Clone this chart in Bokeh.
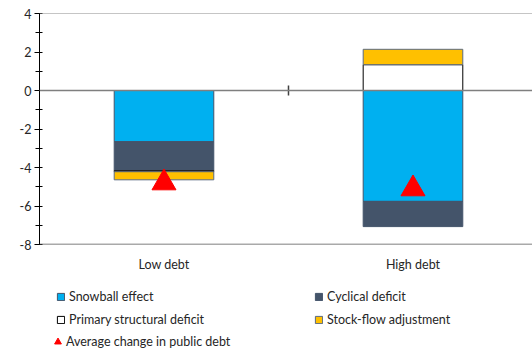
import numpy as np
from bokeh.plotting import figure
from bokeh.layouts import column
from bokeh.models import (Range1d, FixedTicker, Span, Legend, LegendItem,
                          ColumnDataSource)
from bokeh.transform import dodge
from bokeh.embed import file_html
from bokeh.resources import INLINE

# ---- data ----
categories = ["Low debt", "High debt"]
snowball = [-2.66, -5.76]
cyclical = [-1.51, -1.31]
primary_structural = [-0.05, 1.34]
stock_flow = [-0.42, 0.80]
avg_change = [-4.62, -4.93]

series_names = ["Snowball effect", "Cyclical deficit", "Primary structural deficit", "Stock-flow adjustment"]
series_vals = [snowball, cyclical, primary_structural, stock_flow]
fill_colors = ["#00B0F0", "#44546A", "#FFFFFF", "#FFC000"]
line_colors = ["#44546A", "#44546A", "#000000", "#5A6A82"]
avg_name = "Average change in public debt"

y_ticks = [-8, -6, -4, -2, 0, 2, 4]
y_minor = [-7, -5, -3, -1, 1, 3]

FONT = "Lato"
FSIZE = "12.5px"
TXT = "#262626"

xpos = np.arange(len(categories)) + 0.5

p = figure(width=532, height=278, output_backend="svg", toolbar_location=None,
           x_range=Range1d(0, 1.98), y_range=Range1d(-8, 4),
           min_border_left=39, min_border_right=0, min_border_top=13,
           min_border_bottom=34)
p.outline_line_color = None
p.xgrid.visible = False
p.ygrid.visible = False

# stacked bars
pos_base = np.zeros(len(categories))
neg_base = np.zeros(len(categories))
for name, vals, fc, lc in zip(series_names, series_vals, fill_colors, line_colors):
    v = np.array(vals, dtype=float)
    bottom = np.where(v >= 0, pos_base, neg_base)
    top = bottom + v
    pos_base = np.where(v >= 0, top, pos_base)
    neg_base = np.where(v < 0, top, neg_base)
    src = ColumnDataSource(dict(x=xpos, top=top, bottom=bottom))
    p.vbar(x="x", top="top", bottom="bottom", width=0.4, source=src,
           fill_color=fc, line_color=lc, line_width=1)

# lines: top border, zero line, bottom border
p.add_layout(Span(location=4, dimension="width", line_color="#8C8C8C", line_width=1))
p.add_layout(Span(location=-8, dimension="width", line_color="#555555", line_width=1.5))
p.add_layout(Span(location=0, dimension="width", line_color="#7F7F7F", line_width=1.5))
# category separator tick on zero line
sep = ColumnDataSource(dict(x=[1.0], y0=[-0.26], y1=[0.26]))
p.segment(x0="x", y0="y0", x1="x", y1="y1", source=sep, line_color="#404040", line_width=1.5)

# triangles (Excel centers the marker's bounding box on the value)
tri_size = 24
px_per_unit = 231 / 12
tri_shift = -(tri_size * np.sqrt(3) / 2 / 6) / px_per_unit
tri_src = ColumnDataSource(dict(x=xpos, y=avg_change))
p.scatter(x="x", y=dodge("y", tri_shift), source=tri_src, marker="triangle",
          size=tri_size, fill_color="#FF0000", line_color="#FF0000")

# axes
yax = p.yaxis[0]
yax.ticker = FixedTicker(ticks=y_ticks, minor_ticks=y_minor)
yax.major_label_overrides = {t: str(t) for t in y_ticks}
yax.axis_line_color = "black"
yax.major_tick_line_color = "black"
yax.minor_tick_line_color = "black"
yax.major_tick_in = 3
yax.major_tick_out = 5
yax.minor_tick_in = 3
yax.minor_tick_out = 4
yax.major_label_standoff = 3
yax.major_label_text_font = FONT
yax.major_label_text_font_size = FSIZE
yax.major_label_text_color = TXT

xax = p.xaxis[0]
xax.ticker = FixedTicker(ticks=list(xpos))
xax.major_label_overrides = {float(x): c for x, c in zip(xpos, categories)}
xax.axis_line_color = None
xax.major_tick_line_color = None
xax.minor_tick_line_color = None
xax.major_tick_in = 0
xax.major_tick_out = 0
xax.major_label_standoff = 12
xax.major_label_text_font = FONT
xax.major_label_text_font_size = FSIZE
xax.major_label_text_color = TXT

# ---- legend panel (separate figure below the chart) ----
lg = figure(width=532, height=73, output_backend="svg", toolbar_location=None,
            x_range=Range1d(0, 1), y_range=Range1d(0, 1),
            x_axis_type=None, y_axis_type=None,
            min_border_left=0, min_border_right=0, min_border_top=0, min_border_bottom=0)
lg.outline_line_color = None
lg.grid.visible = False

# legend-only swatches, kept outside the visible range of the legend panel
leg_bar = {}
for name, fc, lc in zip(series_names, fill_colors, line_colors):
    off = ColumnDataSource(dict(x=[-10.0], top=[-10.0], bottom=[-11.0]))
    leg_bar[name] = lg.vbar(x="x", top="top", bottom="bottom", width=0.1, source=off,
                            fill_color=fc, line_color=lc, line_width=1)
off_t = ColumnDataSource(dict(x=[-10.0], y=[-10.0]))
leg_tri = lg.scatter(x="x", y="y", source=off_t, marker="triangle",
                     fill_color="#FF0000", line_color="#FF0000")

# column-major order: column 1 = Snowball, Primary; column 2 = Cyclical, Stock-flow
order = [series_names[0], series_names[2], series_names[1], series_names[3]]
leg1 = Legend(items=[LegendItem(label=n, renderers=[leg_bar[n]]) for n in order],
              ncols=2, location=(17, 23),
              glyph_width=9, glyph_height=9, label_standoff=4, label_width=239,
              label_height=17, spacing=6, padding=0, margin=0,
              label_text_font=FONT, label_text_font_size=FSIZE,
              label_text_color=TXT, border_line_color=None,
              background_fill_alpha=0)
leg2 = Legend(items=[LegendItem(label=avg_name, renderers=[leg_tri])],
              location=(10, 1),
              glyph_width=17, glyph_height=17, label_standoff=-2,
              label_height=17, spacing=6, padding=0, margin=0,
              label_text_font=FONT, label_text_font_size=FSIZE,
              label_text_color=TXT, border_line_color=None,
              background_fill_alpha=0)
lg.add_layout(leg1, "center")
lg.add_layout(leg2, "center")

layout = column(p, lg, spacing=0)
open("out.html", "w").write(file_html(layout, INLINE))
